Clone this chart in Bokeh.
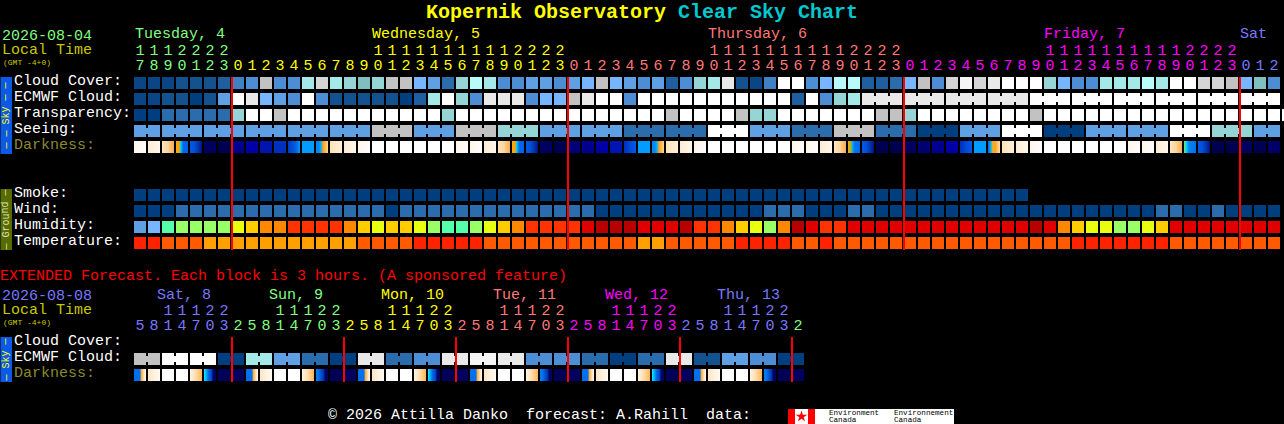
from bokeh.plotting import figure
from bokeh.embed import file_html
from bokeh.resources import INLINE
from bokeh.core.properties import value
from bokeh.models import GlobalInlineStyleSheet, Range1d, ColumnDataSource

# ---------- data ----------
CLOUD_COVER = """A2 A2 A2 B B B B2 D0 D G1 D D T3 G2 T3 T2 T1 T2 G1 G1 F E C T2 T4 T3 D D E E D E F G1 F E D E
B2 D T2 T3 G3 B A2 D0 W W D F T4 T4 B2 B2 C F G1 D G2 G4 G2 G3 W W W T2 F D D T3 T3 T3 T4 T3 W W G2 G2 G1 F T1 D""".split()
ECMWF_CLOUD = """A2 A2 B B A B E W G3 F E D W D B B B B B A B2 T3 W T2 D G3 G3 G3 D F F G1 G3 W W D W W W W W W W W W W W
B2 W D T2 T3 G3 G3 G3 G3 G3 G3 G3 G3 G3 G3 G3 G3 W W W W W W W W W W W W W W W W W W""".split()
TRANSPARENCY = """A A C C C C C T2 W W G1 W W W W W W W W W W W T2 W W W W W W W W W W W W W W W G1 W W W W G1 T2 T2 W W W W W W
W G1 G1 T2 W W W W W W W W G1 W W W W W W W W W W W W W W W W W W W""".split()
SEEING = "E E E E E E G1 E G1 T2 E E C C W E C G1 C A E W A E E W T2 E".split()
SEEING_BLOCKS = [2] + [3] * 26 + [2]
DARKNESS = """c0 c1 c2 dusk1 fall1 n60 n50 n90 na8 nb0 nc0 rise1 sky1 dawn1 a1 c1 c0 W W W W W W c0 c0 c1 c2 dusk1 fall1 n60 n50 n78 n90 na8 nb0 rise0 sky1
dawn1 a1 c1 c0 W W W W W W c0 c0 c1 c2 dusk2 fall1 n50 n50 n60 n70 n90 na8 rise0 sky1 dawn2 a1 c1 c0 W W W W W W c0 c0 c1 c2 dusk3 fall1 n50 n50 n60 n50 n68""".split()
SMOKE = ["A"] * 64
WIND = """A A A C C C C C C C C C C C C C C C A C C C C C C C C C C C C C C A A A A A A A A A A A A C C C A A A C
C A A A A A A A A A A A A A A A A A A A A C C A A C A A A A""".split()
HUMIDITY = """E F mn lm lm lm lm yl gd og og rs rs rs rs og gd yl gd gd yl lm mn mn lm yl gd og rs rs rs rs rd dk dk dk rd rd rd dk rs rs og gd yl lm og dk rd rs rs rd
rd rd rd rd rd rd rd rd rd rd rd rd dk rd og gd yl yl lm lm yl gd rd rd rd rd rd rd rd rd""".split()
TEMPERATURE = """t1 t1 t2 t2 t2 t3 t3 t3 t3 t3 t3 t3 t3 t3 t3 t3 t2 t2 t2 t2 t1 t1 t1 t1 t1 t2 t2 t2 t2 t2 t2 t2 t2 t2 t2 t2 t3 t3 t2 t2 t2 t2 t2 t1 t1 t1 t1 t2 t2 t1 t2 t2
t2 t2 t2 t2 t2 t2 t2 t2 t2 t2 t2 t2 t2 t2 t2 t1 t1 t1 t1 t1 t1 t1 t2 t2 t2 t2 t2 t2 t2 t2""".split()
HOURS = [17, 18, 19, 20, 21, 22, 23] + list(range(24)) * 3 + [0, 1, 2]
HOUR_DAYS = ["tue"] * 7 + ["wed"] * 24 + ["thu"] * 24 + ["fri"] * 24 + ["sat"] * 3
DAY_LABELS = [("Tuesday, 4", 135, "tue"), ("Wednesday, 5", 372, "wed"), ("Thursday, 6", 708, "thu"),
              ("Friday, 7", 1044, "fri"), ("Sat", 1240, "sat")]

EXT_ECMWF = "G1 W W A T3 E C A G3 C D G3 G4 G3 D D C A C G3 B E D A".split()
EXT_DARKNESS = """xa xb W W xc xd x58 x60 xa xb W W xc xe x58 x60 xa xb W W xc xd x58 x60 xa xb W W xc xe x58 x60 xa xb W W xc xd x58 x60 xa xb W W xc xe x58 x60""".split()
EXT_HOURS = [5, 8, 11, 14, 17, 20, 23] + [2, 5, 8, 11, 14, 17, 20, 23] * 5 + [2]
EXT_DAYS = ["sat"] * 7 + ["sun"] * 8 + ["mon"] * 8 + ["tue"] * 8 + ["wed"] * 8 + ["thu"] * 8 + ["fri"]
EXT_DAY_LABELS = [("Sat, 8", 157, "sat"), ("Sun, 9", 269, "sun"), ("Mon, 10", 381, "mon"),
                  ("Tue, 11", 493, "tue"), ("Wed, 12", 605, "wed"), ("Thu, 13", 717, "thu")]

SKY_LABELS = ["Cloud Cover:", "ECMWF Cloud:", "Transparency:", "Seeing:", "Darkness:"]
GROUND_LABELS = ["Smoke:", "Wind:", "Humidity:", "Temperature:"]
EXT_LABELS = ["Cloud Cover:", "ECMWF Cloud:", "Darkness:"]

# ---------- styles ----------
PAL = dict(A="#003f7f", A2="#0a4585", B="#13518f", B2="#1f5fa0", C="#2b6cad", D0="#4080c5", D="#4c8dd3",
           E="#5f9fe3", F="#77b5fe", T1="#7fbfbf", T2="#95d5d5", T3="#a5e8e8", T4="#b8fbfb",
           G1="#c2c2c2", G2="#d5d5d5", G3="#e9e9e9", G4="#f5f5f5", W="#ffffff",
           mn="#55ffaa", lm="#99ff66", yl="#e8ff10", gd="#ffcc00", og="#ff8800", rs="#ff3300",
           rd="#e00000", dk="#b80000", t1="#ff2200", t2="#ff5a00", t3="#ffa000")
RAMPS = dict(
    W=["#ffffff"], c0=["#fff6ea", "#fffdfa"], c1=["#ffecd4", "#fff8ee"], a1=["#ffe3bb", "#fff0d8"],
    c2=["#fde4c2", "#fdd49a", "#fdb050"],
    dusk1=["#ffa500", "#ffa500", "#00c8ff", "#0066ee", "#0066ee", "#0060e8"],
    dusk2=["#ffa500", "#99bb30", "#00a0ff", "#0070f0", "#0070f0", "#0068ee"],
    dusk3=["#66dd88", "#00c8ff", "#0080f0", "#0080f0", "#0078f0", "#0070f0"],
    fall1=["#0058e0", "#0050d8", "#0038b8", "#001a80"],
    n50=["#000050"], n60=["#000060"], n68=["#000068"], n70=["#000070"], n78=["#000078"], n90=["#000090"],
    na8=["#0000a8"], nb0=["#0014b0"], nc0=["#0030c0"],
    rise0=["#0030c0", "#0048d8", "#0058e8"], rise1=["#0040c0", "#0050d8", "#0060e0", "#0090ff"],
    sky1=["#009cff"],
    dawn1=["#0088f8", "#0088f8", "#00b0f0", "#ffa020", "#ffb848", "#ffd080"],
    dawn2=["#0070f0", "#00b0f0", "#ffb020", "#ffa020", "#ffc060", "#ffd898"],
    xa=["#0070f0", "#0070f0", "#0070f0", "#0070f0", "#0070f0", "#ffb040", "#ffc870", "#ffe9cc", "#fff0e0"],
    xb=["#ffe6c8", "#fffaf3"], xc=["#fff2e0", "#ffdca8", "#ffb860"],
    xd=["#00e0ff", "#00a0f8", "#0060e0", "#0050d0", "#000070", "#000060"],
    xe=["#0080f0", "#0070f0", "#0050d0", "#0040b0", "#000070", "#000060"],
    x58=["#000058"], x60=["#000060"],
)
C_GREEN, C_YELLOW, C_SALMON, C_MAGENTA, C_BLUE = "#80ff80", "#ffff00", "#ff7878", "#ff00ff", "#7878ff"
DAY_COL = dict(tue=C_GREEN, wed=C_YELLOW, thu=C_SALMON, fri=C_MAGENTA, sat=C_BLUE)
EXT_COL = dict(sat=C_BLUE, sun=C_GREEN, mon=C_YELLOW, tue=C_SALMON, wed=C_MAGENTA, thu=C_BLUE, fri=C_GREEN)
MONO = "Liberation Mono"
X0, STEP, CW, CH = 134, 14, 12, 12

# the half pixel keeps the cell edges on whole screen pixels
p = figure(width=1284, height=424, x_range=Range1d(0.5, 1284.5), y_range=Range1d(424.5, 0.5),
           output_backend="svg", toolbar_location=None, x_axis_location=None, y_axis_location=None,
           min_border=0, background_fill_color="#000000", border_fill_color="#000000", outline_line_color=None)
p.grid.visible = False
p.stylesheets = [GlobalInlineStyleSheet(css="html,body{margin:0;padding:0;background:#000;overflow:hidden}")]


def cols(i):
    return X0 + STEP * i


def text(x, y, s, color, size=15, bold=False, align="left", angle=0.0):
    src = ColumnDataSource(dict(x=x if isinstance(x, list) else [x],
                                y=y if isinstance(y, list) else [y],
                                t=s if isinstance(s, list) else [s]))
    p.text("x", "y", "t", source=src, text_color=color, text_font=value(MONO),
           text_font_size=value(f"{size}px"), text_font_style="bold" if bold else "normal",
           text_align=align, text_baseline="middle", angle=angle)


def cell_row(tokens, y, blocks=None):
    """Blocks lists how many neighbouring cells are joined into one."""
    left = [cols(i) for i in range(len(tokens))]
    right = [v + CW for v in left]
    fill = [PAL[t] for t in tokens]
    p.quad(left=left, right=right, top=[y] * len(tokens), bottom=[y + CH] * len(tokens),
           fill_color=fill, line_color=None)
    if blocks:
        jl, jc, i = [], [], 0
        for b in blocks:
            for k in range(b - 1):
                jl.append(cols(i + k) + CW)
                jc.append(PAL[tokens[i + k]])
            i += b
        p.quad(left=jl, right=[v + STEP - CW for v in jl], top=[y + 3] * len(jl), bottom=[y + 9] * len(jl),
               fill_color=jc, line_color=None)


def mix(a, b, f):
    ca = [int(a[k:k + 2], 16) for k in (1, 3, 5)]
    cb = [int(b[k:k + 2], 16) for k in (1, 3, 5)]
    return "#%02x%02x%02x" % tuple(round(u + (v - u) * f) for u, v in zip(ca, cb))


def ramp_row(tokens, y):
    """Each strip runs on to the cell's right edge, so the next one covers it without a seam."""
    left, right, fill = [], [], []
    for i, t in enumerate(tokens):
        stops = RAMPS[t]
        for px in range(CW):
            if len(stops) == 1:
                c = stops[0]
            else:
                pos = px / (CW - 1) * (len(stops) - 1)
                k = min(int(pos), len(stops) - 2)
                c = mix(stops[k], stops[k + 1], pos - k)
            left.append(cols(i) + px)
            right.append(cols(i) + CW)
            fill.append(c)
    p.quad(left=left, right=right, top=[y] * len(left), bottom=[y + CH] * len(left),
           fill_color=fill, line_color=None)


def hour_labels(hours, days, palette, y_tens, y_ones):
    for d in dict.fromkeys(days):
        idx = [i for i, v in enumerate(days) if v == d]
        text([cols(i) + 6 for i in idx], [y_ones] * len(idx), [str(hours[i] % 10) for i in idx],
             palette[d], align="center")
        idx = [i for i in idx if hours[i] >= 10]
        text([cols(i) + 6 for i in idx], [y_tens] * len(idx), [str(hours[i] // 10) for i in idx],
             palette[d], align="center")


def row_labels(labels, y0):
    for k, s in enumerate(labels):
        text(14, y0 + 16 * k, s, "#8a8a30" if s == "Darkness:" else "#ffffff")


def side_bar(y0, y1, fill, s, color):
    p.quad(left=[0], right=[12], top=[y0], bottom=[y1], fill_color=fill, line_color=None)
    text(6, (y0 + y1) / 2, s, color, size=10, align="center", angle=1.5708)


# ---------- title ----------
text(426, 12, "Kopernik Observatory", "#ffff00", size=20, bold=True)
text(678, 12, "Clear Sky Chart", "#00c8d0", size=20, bold=True)

# ---------- main chart ----------
text(2, 34.5, "2026-08-04", C_GREEN)
text(2, 50, "Local Time", "#c8c800")
text(3, 62, "(GMT -4+0)", "#c8c800", size=8)
for s, x, d in DAY_LABELS:
    text(x, 34.5, s, DAY_COL[d])
hour_labels(HOURS, HOUR_DAYS, DAY_COL, 50, 65)

side_bar(77, 154, "#0a5ae6", "\u2014 \u2014 Sky \u2014 \u2014", "#ffff00")
side_bar(189, 250, "#566b00", "\u2014 Ground \u2014", "#e0e0b0")
row_labels(SKY_LABELS, 81.5)
row_labels(GROUND_LABELS, 193.5)

cell_row(CLOUD_COVER, 77)
cell_row(ECMWF_CLOUD, 93, [1] * 52 + [3] * 10)
cell_row(TRANSPARENCY, 109)
seeing_cells = [v for v, b in zip(SEEING, SEEING_BLOCKS) for _ in range(b)]
cell_row(seeing_cells, 125, SEEING_BLOCKS)
ramp_row(DARKNESS, 141)
cell_row(SMOKE, 189)
cell_row(WIND, 205)
cell_row(HUMIDITY, 221)
cell_row(TEMPERATURE, 237)

midnight = [i for i, h in enumerate(HOURS) if h == 0]
p.quad(left=[cols(i) - 1 for i in midnight], right=[cols(i) + 1 for i in midnight],
       top=[77] * len(midnight), bottom=[250] * len(midnight), fill_color="#ff0000", line_color=None)

# ---------- extended forecast ----------
text(0, 276, "EXTENDED Forecast. Each block is 3 hours. (A sponsored feature)", "#ff0000")
text(2, 295, "2026-08-08", C_BLUE)
text(2, 310, "Local Time", "#c8c800")
text(3, 322, "(GMT -4+0)", "#c8c800", size=8)
for s, x, d in EXT_DAY_LABELS:
    text(x, 295, s, EXT_COL[d])
hour_labels(EXT_HOURS, EXT_DAYS, EXT_COL, 310, 325)

side_bar(337, 382, "#0a5ae6", "\u2014 Sky \u2014", "#ffff00")
row_labels(EXT_LABELS, 341.5)
ext_cells = [v for v in EXT_ECMWF for _ in range(2)]
cell_row(ext_cells, 353, [2] * len(EXT_ECMWF))
ramp_row(EXT_DARKNESS, 369)

ext_mid = [i for i, h in enumerate(EXT_HOURS) if h == 2]
p.quad(left=[cols(i) - 1 for i in ext_mid], right=[cols(i) + 1 for i in ext_mid],
       top=[337] * len(ext_mid), bottom=[382] * len(ext_mid), fill_color="#ff0000", line_color=None)

# ---------- footer ----------
text(328, 415, "\u00a9 2026 Attilla Danko\u00a0\u00a0forecast: A.Rahill\u00a0\u00a0data:", "#ffffff")
p.quad(left=[788], right=[954], top=[409], bottom=[424], fill_color="#ffffff", line_color=None)
p.quad(left=[788, 808], right=[795, 815], top=[409, 409], bottom=[424, 424], fill_color="#ff0000", line_color=None)
p.scatter([801.5], [416.5], marker="star", size=12, fill_color="#ff0000", line_color=None)
for x, a in ((829, "Environment"), (894, "Environnement")):
    text(x, 413, a, "#000000", size=7.6)
    text(x, 420, "Canada", "#000000", size=7.6)

open("out.html", "w").write(file_html(p, INLINE))
